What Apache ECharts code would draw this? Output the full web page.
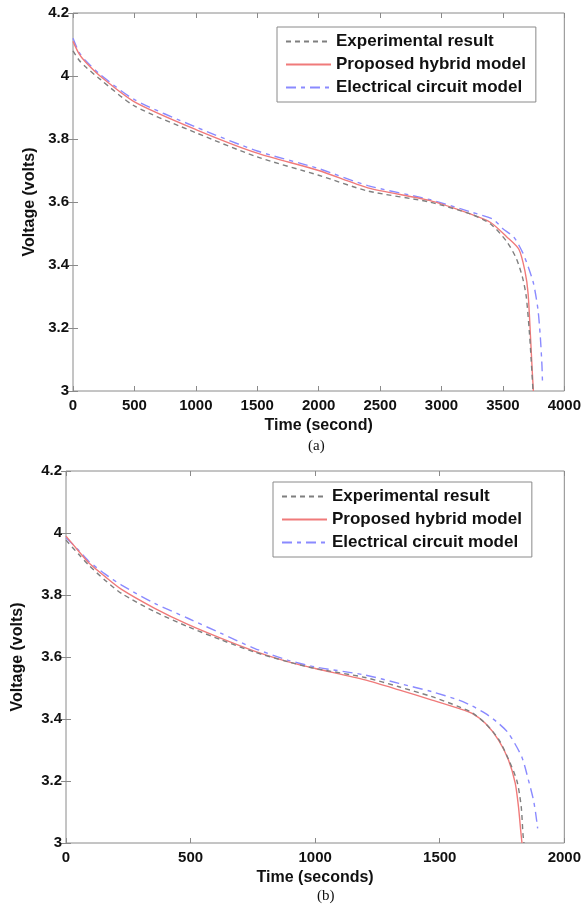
<!DOCTYPE html>
<html>
<head>
<meta charset="utf-8">
<script src="https://cdn.jsdelivr.net/npm/echarts@6/dist/echarts.min.js"></script>
<style>
  html, body { margin: 0; padding: 0; background: #fff; }
  #chart { width: 584px; height: 916px; }
</style>
</head>
<body>
<div id="chart"></div>
<script>
// ---- data (a): 4000 s discharge ----
const expTimeA = [0, 50, 100, 220, 500, 1000, 1500, 2000, 2400, 2900, 3250, 3400, 3530, 3610, 3660, 3690, 3715, 3730, 3745];
const expVoltA = [4.08, 4.05, 4.03, 3.99, 3.905, 3.82, 3.743, 3.685, 3.635, 3.60, 3.56, 3.53, 3.475, 3.42, 3.36, 3.30, 3.19, 3.10, 3.0];
const hybTimeA = [0, 50, 100, 220, 500, 1000, 1500, 2000, 2400, 2900, 3250, 3400, 3530, 3630, 3680, 3705, 3725, 3738, 3748];
const hybVoltA = [4.11, 4.07, 4.045, 4.0, 3.918, 3.83, 3.755, 3.70, 3.645, 3.605, 3.56, 3.535, 3.49, 3.45, 3.38, 3.31, 3.17, 3.07, 3.0];
const ecmTimeA = [0, 50, 100, 220, 500, 1000, 1500, 2000, 2400, 2900, 3250, 3420, 3500, 3590, 3660, 3710, 3750, 3785, 3805, 3818, 3822];
const ecmVoltA = [4.12, 4.075, 4.05, 4.005, 3.925, 3.838, 3.762, 3.706, 3.652, 3.608, 3.567, 3.545, 3.515, 3.488, 3.44, 3.39, 3.34, 3.26, 3.17, 3.08, 3.03];

// ---- data (b): 2000 s discharge ----
const expTimeB = [0, 50, 90, 156, 223, 356, 489, 623, 756, 889, 1000, 1200, 1336, 1469, 1576, 1630, 1683, 1736, 1776, 1810, 1827, 1834, 1838];
const expVoltB = [3.977, 3.932, 3.897, 3.848, 3.805, 3.746, 3.698, 3.655, 3.616, 3.585, 3.563, 3.534, 3.504, 3.472, 3.44, 3.42, 3.386, 3.335, 3.27, 3.20, 3.117, 3.03, 3.0];
const hybTimeB = [0, 50, 90, 156, 223, 356, 489, 623, 756, 889, 1000, 1200, 1336, 1469, 1576, 1630, 1683, 1736, 1776, 1803, 1816, 1825, 1830];
const hybVoltB = [3.99, 3.942, 3.905, 3.86, 3.818, 3.757, 3.705, 3.66, 3.619, 3.585, 3.563, 3.526, 3.494, 3.461, 3.434, 3.418, 3.386, 3.332, 3.268, 3.193, 3.117, 3.04, 3.0];
const ecmTimeB = [0, 50, 90, 156, 223, 356, 489, 623, 756, 889, 1000, 1200, 1336, 1469, 1576, 1630, 1683, 1736, 1776, 1829, 1856, 1876, 1885, 1893];
const ecmVoltB = [3.985, 3.945, 3.91, 3.868, 3.832, 3.773, 3.725, 3.676, 3.628, 3.59, 3.568, 3.542, 3.515, 3.488, 3.461, 3.442, 3.418, 3.386, 3.354, 3.278, 3.203, 3.139, 3.096, 3.047];

const seriesNames = ["Experimental result", "Proposed hybrid model", "Electrical circuit model"];
const xMaxA = 4000, xMaxB = 2000, xStep = 500;
const yMin = 3, yMax = 4.2, yStep = 0.2;

const FONT = "Liberation Sans, Arial, sans-serif";

function pairs(t, v) {
  return t.map((x, i) => [x, v[i]]);
}

// common axis bits
const tickStyle = { show: true, inside: true, length: 5, lineStyle: { color: "#8a8a8a" } };
const labelStyle = { color: "#111", fontFamily: FONT, fontWeight: "bold", fontSize: 15 };

function xAxisPair(gridIndex, max, nameText) {
  return [
    {
      type: "value", gridIndex: gridIndex, min: 0, max: max, interval: xStep,
      name: nameText, nameLocation: "middle", nameGap: 27,
      nameTextStyle: { color: "#111", fontFamily: FONT, fontWeight: "bold", fontSize: 16 },
      axisLine: { show: false }, axisTick: tickStyle, splitLine: { show: false },
      axisLabel: Object.assign({ margin: 7, formatter: (v) => String(v) }, labelStyle)
    },
    {
      type: "value", gridIndex: gridIndex, position: "top", min: 0, max: max, interval: xStep,
      axisLine: { show: false }, axisTick: tickStyle, splitLine: { show: false },
      axisLabel: { show: false }
    }
  ];
}

function yAxisPair(gridIndex, nameGap) {
  return [
    {
      type: "value", gridIndex: gridIndex, min: yMin, max: yMax, interval: yStep,
      name: "Voltage (volts)", nameLocation: "middle", nameGap: nameGap,
      nameTextStyle: { color: "#111", fontFamily: FONT, fontWeight: "bold", fontSize: 16 },
      axisLine: { show: false }, axisTick: tickStyle, splitLine: { show: false },
      axisLabel: Object.assign({ margin: 4, formatter: (v) => String(+v.toFixed(1)) }, labelStyle)
    },
    {
      type: "value", gridIndex: gridIndex, position: "right", min: yMin, max: yMax, interval: yStep,
      axisLine: { show: false }, axisTick: tickStyle, splitLine: { show: false },
      axisLabel: { show: false }
    }
  ];
}

const styles = [
  { color: "#7f7f7f", width: 1.4, type: [5, 4] },
  { color: "#f07a7a", width: 1.4, type: "solid" },
  { color: "#8a8aff", width: 1.4, type: [10, 5, 4, 5] }
];

function makeSeries(xi, yi, dataList) {
  return dataList.map((d, i) => ({
    name: seriesNames[i],
    type: "line",
    xAxisIndex: xi,
    yAxisIndex: yi,
    data: d,
    showSymbol: false,
    symbol: "none",
    smooth: 0.25,
    animation: false,
    lineStyle: styles[i],
    itemStyle: { color: styles[i].color },
    z: 3 - i
  }));
}

function makeLegend(left, top) {
  return {
    data: seriesNames,
    orient: "vertical",
    left: left, top: top,
    padding: [6, 10, 6, 8],
    itemWidth: 45, itemHeight: 12, itemGap: 6,
    borderColor: "#8a8a8a", borderWidth: 1, borderRadius: 0,
    backgroundColor: "#fff",
    selectedMode: false,
    itemStyle: { opacity: 0 },
    textStyle: { color: "#111", fontFamily: FONT, fontWeight: "bold", fontSize: 17, lineHeight: 17 }
  };
}

const chart = echarts.init(document.getElementById("chart"), null, { renderer: "canvas" });
chart.setOption({
  animation: false,
  backgroundColor: "#fff",
  grid: [
    { left: 73, top: 13, width: 492, height: 378, show: true, borderColor: "#8a8a8a", borderWidth: 1, backgroundColor: "#fff" },
    { left: 66, top: 471, width: 500, height: 372, show: true, borderColor: "#8a8a8a", borderWidth: 1, backgroundColor: "#fff" }
  ],
  xAxis: [].concat(xAxisPair(0, xMaxA, "Time (second)"), xAxisPair(1, xMaxB, "Time (seconds)")),
  yAxis: [].concat(yAxisPair(0, 34), yAxisPair(1, 40)),
  legend: [makeLegend(277, 27), makeLegend(273, 482)],
  series: [].concat(
    makeSeries(0, 0, [pairs(expTimeA, expVoltA), pairs(hybTimeA, hybVoltA), pairs(ecmTimeA, ecmVoltA)]),
    makeSeries(2, 2, [pairs(expTimeB, expVoltB), pairs(hybTimeB, hybVoltB), pairs(ecmTimeB, ecmVoltB)])
  ),
  graphic: [
    { type: "text", left: 308, top: 439, style: { text: "(a)", font: "15px 'Liberation Serif', 'Times New Roman', serif", fill: "#111" } },
    { type: "text", left: 317, top: 889, style: { text: "(b)", font: "15px 'Liberation Serif', 'Times New Roman', serif", fill: "#111" } }
  ]
});
</script>
</body>
</html>
